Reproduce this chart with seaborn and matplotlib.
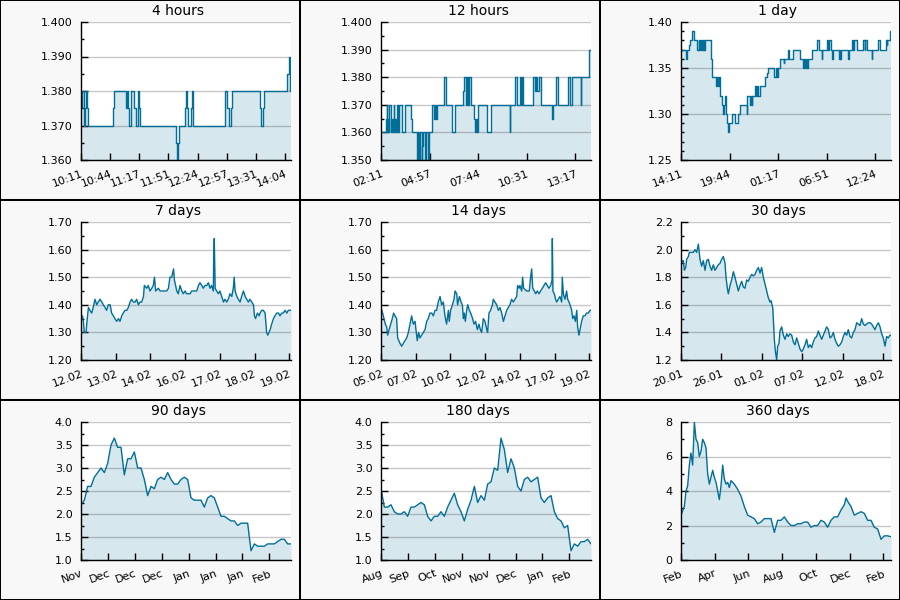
import matplotlib
matplotlib.use("Agg")
import matplotlib.pyplot as plt
import seaborn as sns
import pandas as pd
import numpy as np
from matplotlib.patches import Rectangle
from matplotlib.ticker import MultipleLocator, FormatStrFormatter

# ---- 4 hours (minutes after 10:11), step data
t_4h = [0, 1.5, 3, 4, 5.5, 7, 8.5, 36, 37.5, 51.5, 52.5, 53.5, 55.2, 56.8, 61, 62.5, 65.5,
        66.5, 67.4, 109, 110, 111, 112, 118.9, 120, 121, 122.7, 125.3, 126.5, 128.4, 164,
        165, 167, 168.8, 171.4, 172.5, 204.2, 205.5, 208.4, 209.5, 235.8, 237.3, 238.9, 240]
v_4h = [1.375, 1.380, 1.370, 1.375, 1.380, 1.375, 1.370, 1.375, 1.380, 1.375, 1.380, 1.375,
        1.370, 1.380, 1.375, 1.370, 1.380, 1.375, 1.370, 1.365, 1.360, 1.365, 1.370, 1.375,
        1.380, 1.375, 1.370, 1.375, 1.380, 1.370, 1.375, 1.380, 1.375, 1.370, 1.375, 1.380,
        1.375, 1.370, 1.375, 1.380, 1.385, 1.390, 1.380, 1.380]
labels_4h = ["10:11", "10:44", "11:17", "11:51", "12:24", "12:57", "13:31", "14:04"]

# ---- 12 hours (minutes after 02:11), step data
t_12h = [0, 17, 19, 22, 25, 27, 29, 33, 37, 40, 43, 46, 49, 52, 54, 59, 62, 71, 82, 102, 105,
         122, 124, 127, 130, 134, 139, 142, 145, 151, 155, 162, 163, 174, 183, 186, 188, 191,
         216, 223, 242, 254, 282, 286, 290, 294, 298, 302, 307, 319, 322, 325, 328, 334, 365,
         377, 442, 443, 459, 465, 477, 479, 482, 486, 522, 527, 531, 535, 540, 547, 587, 591,
         599, 608, 642, 648, 654, 684, 686, 714, 720]
v_12h = [1.360, 1.365, 1.370, 1.360, 1.365, 1.360, 1.370, 1.360, 1.365, 1.360, 1.370, 1.360,
         1.365, 1.360, 1.370, 1.360, 1.370, 1.360, 1.370, 1.365, 1.360, 1.355, 1.350, 1.360,
         1.350, 1.360, 1.350, 1.355, 1.360, 1.350, 1.360, 1.350, 1.360, 1.370, 1.365, 1.370,
         1.365, 1.370, 1.380, 1.370, 1.360, 1.370, 1.375, 1.380, 1.370, 1.380, 1.370, 1.380,
         1.370, 1.365, 1.360, 1.365, 1.360, 1.370, 1.360, 1.370, 1.360, 1.370, 1.380, 1.370,
         1.380, 1.370, 1.380, 1.370, 1.380, 1.375, 1.380, 1.375, 1.380, 1.370, 1.365, 1.370,
         1.380, 1.370, 1.380, 1.370, 1.380, 1.370, 1.380, 1.390, 1.390]
labels_12h = ["02:11", "04:57", "07:44", "10:31", "13:17"]

# ---- 1 day (minutes after 14:11), step data
t_1d = [0, 32, 39, 55, 59, 78, 91, 110, 120, 126, 130, 137, 142, 148, 155, 160, 165, 206, 210,
        240, 250, 255, 260, 267, 279, 290, 297, 303, 306, 318, 325, 329, 352, 370, 393, 407,
        450, 452, 473, 478, 484, 490, 507, 515, 520, 530, 544, 576, 587, 594, 640, 648, 655,
        667, 679, 704, 708, 736, 741, 770, 816, 839, 845, 850, 856, 862, 873, 896, 935, 946,
        965, 970, 999, 1010, 1015, 1029, 1033, 1040, 1083, 1088, 1092, 1097, 1147, 1150, 1170,
        1180, 1185, 1205, 1250, 1260, 1265, 1273, 1307, 1310, 1353, 1364, 1403, 1410, 1415,
        1433, 1440]
v_1d = [1.37, 1.36, 1.37, 1.375, 1.38, 1.39, 1.38, 1.37, 1.38, 1.37, 1.38, 1.37, 1.38, 1.37,
        1.38, 1.37, 1.38, 1.36, 1.34, 1.33, 1.34, 1.33, 1.34, 1.32, 1.31, 1.30, 1.31, 1.32,
        1.30, 1.29, 1.28, 1.29, 1.30, 1.29, 1.30, 1.31, 1.30, 1.32, 1.31, 1.32, 1.31, 1.32,
        1.33, 1.32, 1.33, 1.32, 1.33, 1.34, 1.345, 1.35, 1.34, 1.35, 1.34, 1.35, 1.36, 1.355,
        1.36, 1.37, 1.36, 1.37, 1.36, 1.35, 1.36, 1.35, 1.36, 1.35, 1.36, 1.37, 1.38, 1.37,
        1.36, 1.37, 1.38, 1.37, 1.38, 1.37, 1.36, 1.37, 1.36, 1.37, 1.36, 1.37, 1.36, 1.37,
        1.38, 1.37, 1.38, 1.37, 1.38, 1.37, 1.38, 1.37, 1.36, 1.37, 1.38, 1.37, 1.38, 1.375,
        1.38, 1.39, 1.39]
labels_1d = ["14:11", "19:44", "01:17", "06:51", "12:24"]

# ---- 7 days (days after 12.02)
t_7d = [0, 0.05, 0.08, 0.11, 0.17, 0.21, 0.25, 0.30, 0.36, 0.41, 0.47, 0.53, 0.58, 0.64, 0.70,
        0.75, 0.81, 0.86, 0.92, 0.98, 1.03, 1.09, 1.14, 1.20, 1.26, 1.31, 1.37, 1.42, 1.48,
        1.54, 1.59, 1.65, 1.70, 1.76, 1.82, 1.87, 1.93, 1.98, 2.04, 2.10, 2.13, 2.21, 2.26,
        2.32, 2.38, 2.43, 2.47, 2.51, 2.60, 2.66, 2.77, 2.88, 2.94, 2.99, 3.05, 3.11, 3.14,
        3.22, 3.27, 3.33, 3.39, 3.44, 3.50, 3.55, 3.67, 3.72, 3.78, 3.89, 3.95, 4.00, 4.06,
        4.11, 4.17, 4.23, 4.28, 4.34, 4.39, 4.45, 4.46, 4.48, 4.51, 4.56, 4.62, 4.67, 4.73,
        4.79, 4.84, 4.90, 4.95, 5.01, 5.07, 5.12, 5.15, 5.18, 5.24, 5.29, 5.35, 5.40, 5.46,
        5.52, 5.57, 5.63, 5.68, 5.74, 5.80, 5.83, 5.87, 5.93, 5.99, 6.02, 6.08, 6.13, 6.19,
        6.24, 6.28, 6.36, 6.41, 6.47, 6.52, 6.58, 6.64, 6.69, 6.75, 6.80, 6.86, 6.92, 6.97, 7.06]
v_7d = [1.35, 1.36, 1.34, 1.30, 1.30, 1.35, 1.39, 1.38, 1.37, 1.39, 1.42, 1.40, 1.41, 1.42,
        1.41, 1.40, 1.39, 1.38, 1.40, 1.40, 1.37, 1.36, 1.35, 1.34, 1.35, 1.34, 1.36, 1.37,
        1.38, 1.38, 1.39, 1.41, 1.42, 1.41, 1.41, 1.42, 1.40, 1.41, 1.41, 1.43, 1.47, 1.46,
        1.47, 1.45, 1.46, 1.47, 1.50, 1.45, 1.46, 1.45, 1.45, 1.45, 1.46, 1.50, 1.50, 1.53,
        1.49, 1.45, 1.44, 1.47, 1.45, 1.44, 1.45, 1.44, 1.44, 1.45, 1.45, 1.45, 1.47, 1.48,
        1.47, 1.46, 1.47, 1.47, 1.48, 1.46, 1.47, 1.45, 1.56, 1.64, 1.46, 1.45, 1.44, 1.45,
        1.43, 1.41, 1.42, 1.41, 1.42, 1.44, 1.43, 1.46, 1.50, 1.45, 1.43, 1.42, 1.41, 1.43,
        1.45, 1.43, 1.42, 1.41, 1.42, 1.41, 1.40, 1.36, 1.35, 1.37, 1.36, 1.37, 1.38, 1.38,
        1.37, 1.30, 1.29, 1.31, 1.33, 1.35, 1.36, 1.37, 1.37, 1.36, 1.37, 1.37, 1.38, 1.37,
        1.38, 1.38]
labels_7d = ["12.02", "13.02", "14.02", "16.02", "17.02", "18.02", "19.02"]

# ---- 14 days (days after 05.02)
t_14d = [0.00, 0.11, 0.20, 0.29, 0.38, 0.45, 0.54, 0.65, 0.76, 0.85, 0.94, 1.05, 1.12, 1.28,
         1.39, 1.50, 1.61, 1.73, 1.84, 1.95, 2.06, 2.17, 2.29, 2.35, 2.44, 2.53, 2.62, 2.73,
         2.85, 2.96, 3.07, 3.18, 3.29, 3.41, 3.52, 3.63, 3.74, 3.85, 3.97, 4.08, 4.19, 4.30,
         4.41, 4.53, 4.59, 4.68, 4.80, 4.91, 4.98, 5.09, 5.15, 5.27, 5.38, 5.47, 5.54, 5.60,
         5.67, 5.76, 5.83, 5.94, 6.03, 6.16, 6.25, 6.36, 6.48, 6.59, 6.68, 6.77, 6.88, 6.99,
         7.11, 7.17, 7.26, 7.37, 7.49, 7.55, 7.66, 7.78, 7.89, 8.00, 8.11, 8.23, 8.34, 8.45,
         8.56, 8.67, 8.78, 8.90, 9.01, 9.12, 9.19, 9.28, 9.34, 9.46, 9.52, 9.59, 9.79, 9.97,
         10.06, 10.13, 10.20, 10.31, 10.40, 10.51, 10.62, 10.73, 10.85, 10.96, 11.07, 11.18,
         11.29, 11.41, 11.50, 11.52, 11.56, 11.65, 11.74, 11.81, 11.92, 12.03, 12.15, 12.19,
         12.26, 12.37, 12.48, 12.55, 12.64, 12.71, 12.82, 12.89, 12.98, 13.07, 13.16, 13.22,
         13.31, 13.38, 13.49, 13.60, 13.71, 13.83, 13.94, 14.05, 14.12]
v_14d = [1.39, 1.37, 1.35, 1.33, 1.32, 1.29, 1.31, 1.33, 1.35, 1.37, 1.36, 1.35, 1.28, 1.26,
         1.25, 1.26, 1.27, 1.28, 1.30, 1.33, 1.36, 1.33, 1.34, 1.31, 1.27, 1.30, 1.28, 1.29,
         1.30, 1.31, 1.34, 1.35, 1.37, 1.37, 1.36, 1.38, 1.38, 1.41, 1.43, 1.40, 1.41, 1.36,
         1.33, 1.38, 1.34, 1.38, 1.40, 1.42, 1.45, 1.44, 1.40, 1.43, 1.41, 1.40, 1.35, 1.37,
         1.34, 1.38, 1.40, 1.38, 1.37, 1.35, 1.33, 1.34, 1.31, 1.33, 1.31, 1.30, 1.35, 1.34,
         1.31, 1.30, 1.37, 1.38, 1.40, 1.42, 1.41, 1.40, 1.38, 1.39, 1.37, 1.34, 1.36, 1.38,
         1.39, 1.40, 1.42, 1.41, 1.42, 1.43, 1.47, 1.46, 1.47, 1.45, 1.50, 1.46, 1.45, 1.45,
         1.50, 1.53, 1.46, 1.45, 1.44, 1.45, 1.44, 1.45, 1.46, 1.47, 1.48, 1.47, 1.46, 1.47,
         1.49, 1.64, 1.45, 1.44, 1.42, 1.41, 1.42, 1.43, 1.41, 1.50, 1.44, 1.42, 1.45, 1.42,
         1.41, 1.40, 1.38, 1.35, 1.36, 1.34, 1.38, 1.32, 1.29, 1.31, 1.34, 1.36, 1.36, 1.37,
         1.37, 1.38, 1.38]
labels_14d = ["05.02", "07.02", "10.02", "12.02", "14.02", "17.02", "19.02"]

# ---- 30 days (days after 20.01)
t_30d = [0.00, 0.19, 0.33, 0.48, 0.67, 0.81, 1.05, 1.19, 1.52, 1.76, 2.00, 2.24, 2.48, 2.71,
         2.95, 3.19, 3.43, 3.67, 3.90, 4.14, 4.38, 4.62, 4.86, 5.10, 5.33, 5.57, 5.81, 6.05,
         6.29, 6.43, 6.62, 6.76, 7.00, 7.24, 7.48, 7.71, 7.95, 8.19, 8.43, 8.67, 8.90, 9.14,
         9.38, 9.62, 9.86, 10.10, 10.33, 10.57, 10.81, 11.05, 11.29, 11.52, 11.76, 12.00,
         12.24, 12.48, 12.71, 12.86, 13.10, 13.19, 13.33, 13.43, 13.52, 13.67, 13.81, 14.00,
         14.14, 14.38, 14.62, 14.86, 15.10, 15.33, 15.57, 15.81, 16.05, 16.29, 16.52, 16.76,
         17.00, 17.24, 17.48, 17.71, 17.95, 18.19, 18.43, 18.67, 18.90, 19.14, 19.38, 19.62,
         19.86, 20.10, 20.33, 20.57, 20.81, 21.05, 21.29, 21.52, 21.76, 22.00, 22.24, 22.48,
         22.71, 22.95, 23.19, 23.43, 23.67, 23.90, 24.14, 24.38, 24.62, 24.86, 25.10, 25.33,
         25.57, 25.81, 26.05, 26.29, 26.52, 26.76, 27.00, 27.24, 27.48, 27.71, 27.95, 28.19,
         28.43, 28.67, 28.90, 29.14, 29.38, 29.62, 29.86, 30.00]
v_30d = [1.93, 1.91, 1.92, 1.85, 1.87, 1.93, 1.95, 1.98, 1.98, 1.98, 2.00, 1.98, 2.04, 1.93,
         1.88, 1.92, 1.85, 1.92, 1.93, 1.88, 1.85, 1.89, 1.85, 1.87, 1.89, 1.90, 1.93, 1.95,
         1.90, 1.80, 1.72, 1.68, 1.74, 1.78, 1.84, 1.80, 1.75, 1.70, 1.74, 1.77, 1.73, 1.72,
         1.78, 1.77, 1.80, 1.82, 1.81, 1.82, 1.85, 1.87, 1.83, 1.87, 1.80, 1.75, 1.70, 1.65,
         1.62, 1.63, 1.58, 1.50, 1.35, 1.29, 1.25, 1.20, 1.30, 1.32, 1.41, 1.44, 1.38, 1.35,
         1.39, 1.37, 1.39, 1.38, 1.33, 1.31, 1.36, 1.32, 1.28, 1.26, 1.28, 1.31, 1.35, 1.29,
         1.31, 1.29, 1.33, 1.36, 1.37, 1.41, 1.38, 1.35, 1.38, 1.41, 1.44, 1.42, 1.36, 1.37,
         1.40, 1.35, 1.32, 1.30, 1.31, 1.33, 1.37, 1.40, 1.38, 1.42, 1.37, 1.36, 1.40, 1.42,
         1.47, 1.46, 1.45, 1.50, 1.46, 1.45, 1.46, 1.47, 1.47, 1.46, 1.44, 1.42, 1.45, 1.47,
         1.44, 1.39, 1.36, 1.30, 1.37, 1.36, 1.38, 1.38]
labels_30d = ["20.01", "26.01", "01.02", "07.02", "12.02", "18.02"]

# ---- 90 days, one reading every ~1.4 days
v_90d = [2.2, 2.3, 2.6, 2.6, 2.8, 2.9, 3.0, 2.9, 3.1, 3.5, 3.65, 3.45, 3.45, 2.85, 3.2, 3.2,
         3.35, 3.0, 3.0, 2.75, 2.4, 2.6, 2.55, 2.75, 2.8, 2.75, 2.9, 2.75, 2.65, 2.65, 2.75,
         2.8, 2.75, 2.35, 2.3, 2.3, 2.3, 2.15, 2.35, 2.4, 2.35, 2.15, 1.95, 1.95, 1.9, 1.85,
         1.85, 1.75, 1.8, 1.8, 1.8, 1.2, 1.35, 1.3, 1.3, 1.3, 1.35, 1.35, 1.35, 1.4, 1.45,
         1.45, 1.35, 1.35]
labels_90d = ["Nov", "Dec", "Dec", "Dec", "Jan", "Jan", "Jan", "Feb"]

# ---- 180 days, one reading every ~2.9 days
v_180d = [2.55, 2.15, 2.15, 2.2, 2.05, 2.0, 2.0, 2.05, 1.95, 2.15, 2.15, 2.2, 2.25, 2.2, 1.95,
          1.85, 1.95, 1.95, 2.05, 1.95, 2.15, 2.3, 2.45, 2.2, 2.05, 1.85, 2.1, 2.3, 2.6, 2.25,
          2.4, 2.3, 2.65, 2.7, 3.0, 2.95, 3.65, 3.4, 2.9, 3.2, 3.0, 2.6, 2.5, 2.75, 2.8, 2.7,
          2.75, 2.8, 2.35, 2.25, 2.35, 2.4, 2.05, 1.9, 1.85, 1.7, 1.75, 1.2, 1.35, 1.3, 1.4,
          1.4, 1.45, 1.35]
labels_180d = ["Aug", "Sep", "Oct", "Nov", "Nov", "Dec", "Jan", "Feb"]

# ---- 360 days (days after start)
t_360d = [0, 5.7, 8.6, 11.4, 14.3, 17.1, 20.0, 22.9, 25.7, 28.6, 31.4, 34.3, 37.1, 40.0, 42.9,
          45.7, 48.6, 51.4, 54.3, 57.1, 60.0, 62.9, 65.7, 68.6, 71.4, 74.3, 77.1, 80.0, 82.9,
          85.7, 91.4, 97.1, 102.9, 108.6, 114.3, 120.0, 125.7, 131.4, 137.1, 142.9, 148.6,
          154.3, 160.0, 165.7, 171.4, 177.1, 182.9, 188.6, 194.3, 200.0, 205.7, 211.4, 217.1,
          222.9, 228.6, 234.3, 240.0, 245.7, 251.4, 257.1, 262.9, 268.6, 274.3, 280.0, 282.9,
          285.7, 291.4, 297.1, 302.9, 308.6, 314.3, 320.0, 325.7, 331.4, 337.1, 342.9, 348.6,
          354.3, 360.0]
v_360d = [2.6, 3.1, 4.0, 4.3, 5.5, 6.2, 5.5, 8.0, 7.0, 6.8, 6.0, 6.3, 7.0, 6.8, 6.5, 5.0, 4.4,
          4.8, 5.2, 4.8, 4.5, 4.0, 3.5, 4.3, 5.5, 4.7, 4.4, 4.5, 4.2, 4.6, 4.4, 4.1, 3.7, 3.1,
          2.6, 2.5, 2.4, 2.1, 2.2, 2.4, 2.4, 2.4, 1.6, 2.3, 2.3, 2.5, 2.2, 2.0, 2.0, 2.1, 2.1,
          2.2, 2.2, 1.9, 2.0, 2.0, 2.3, 2.2, 1.9, 2.3, 2.5, 2.5, 2.9, 3.2, 3.6, 3.4, 3.1, 2.6,
          2.7, 2.8, 2.7, 2.3, 2.3, 1.9, 1.8, 1.2, 1.4, 1.4, 1.35]
labels_360d = ["Feb", "Apr", "Jun", "Aug", "Oct", "Dec", "Feb"]

LINE = "#006e98"
FILL = "#d7e7ee"

# title, x, y, x span, tick spacing, tick labels, y range, major, minor, y format, step chart
panels = [
    ("4 hours", t_4h, v_4h, 240, 33.33, labels_4h, (1.36, 1.40), 0.01, 0.005, "%.3f", True),
    ("12 hours", t_12h, v_12h, 720, 166.67, labels_12h, (1.35, 1.40), 0.01, 0.005, "%.3f", True),
    ("1 day", t_1d, v_1d, 1440, 333.33, labels_1d, (1.25, 1.40), 0.05, 0.01, "%.2f", True),
    ("7 days", t_7d, v_7d, 7.06, 7 / 6, labels_7d, (1.2, 1.7), 0.1, 0.05, "%.2f", False),
    ("14 days", t_14d, v_14d, 14.12, 14 / 6, labels_14d, (1.2, 1.7), 0.1, 0.05, "%.2f", False),
    ("30 days", t_30d, v_30d, 30, 5.78, labels_30d, (1.2, 2.2), 0.2, 0.1, "%.1f", False),
    ("90 days", np.linspace(0, 90, len(v_90d)), v_90d, 90, 11.53, labels_90d,
     (1.0, 4.0), 0.5, 0.25, "%.1f", False),
    ("180 days", np.linspace(0, 180, len(v_180d)), v_180d, 180, 23.06, labels_180d,
     (1.0, 4.0), 0.5, 0.25, "%.1f", False),
    ("360 days", t_360d, v_360d, 360, 57.8, labels_360d, (0, 8), 2, 1, "%.0f", False),
]

sns.set_theme(style="white")
plt.rcParams["font.family"] = ["DejaVu Sans"]
plt.rcParams["text.color"] = "black"
plt.rcParams["xtick.color"] = "black"
plt.rcParams["ytick.color"] = "black"

fig = plt.figure(figsize=(9, 6), dpi=100)
fig.patch.set_facecolor("#f8f8f8")

for i, (title, t, v, span, step, labels, ylim, major, minor, fmt, steps) in enumerate(panels):
    r, c = divmod(i, 3)
    fig.add_artist(Rectangle((c / 3, 1 - (r + 1) / 3), 1 / 3, 1 / 3, transform=fig.transFigure,
                             facecolor="#f8f8f8", edgecolor="black", lw=1.45, zorder=-10))
    ax = fig.add_axes([(300 * c + 81) / 900, 1 - (200 * r + 160) / 600, 210 / 900, 138 / 600])
    ax.set_facecolor("white")

    df = pd.DataFrame({"t": t, "v": v})
    sns.lineplot(data=df, x="t", y="v", ax=ax, color=LINE, lw=1.0, estimator=None, sort=False,
                 drawstyle="steps-post" if steps else "default")
    ax.fill_between(df["t"], df["v"], ylim[0], step="post" if steps else None,
                    color=FILL, lw=0, zorder=0.3)

    ax.set_xlim(0, span)
    ax.set_ylim(*ylim)
    ax.set_xlabel("")
    ax.set_ylabel("")
    ax.set_xticks([k * step for k in range(len(labels))])
    ax.set_xticklabels(labels, rotation=20, ha="right", rotation_mode="anchor")
    ax.yaxis.set_major_locator(MultipleLocator(major))
    ax.yaxis.set_minor_locator(MultipleLocator(minor))
    ax.yaxis.set_major_formatter(FormatStrFormatter(fmt))
    ax.yaxis.grid(True, color="black", alpha=0.22, lw=1)
    ax.set_axisbelow(True)

    for s in ["top", "right"]:
        ax.spines[s].set_visible(False)
    for s in ["left", "bottom"]:
        ax.spines[s].set_color("black")
        ax.spines[s].set_linewidth(1)
    ax.tick_params(axis="both", which="major", direction="in", length=5, width=1,
                   labelsize=8, left=True, bottom=True, pad=6)
    ax.tick_params(axis="x", which="major", pad=6)
    ax.tick_params(axis="y", which="minor", direction="in", length=2.5, width=1, left=True)

    fig.text((300 * c + 178) / 900, 1 - (200 * r + 11) / 600, title,
             ha="center", va="center", fontsize=10)

fig.savefig("out.png", dpi=100, facecolor=fig.get_facecolor())
